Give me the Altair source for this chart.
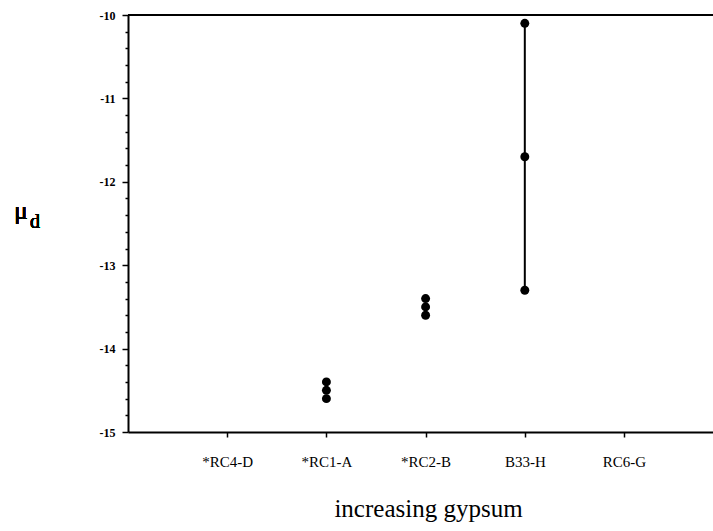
import altair as alt
import pandas as pd

# ---- data ----
categories = ["*RC4-D", "*RC1-A", "*RC2-B", "B33-H", "RC6-G"]
sample_site = ["*RC1-A", "*RC1-A", "*RC1-A",
               "*RC2-B", "*RC2-B", "*RC2-B",
               "B33-H", "B33-H", "B33-H"]
mu_d = [-14.4, -14.5, -14.6,
        -13.4, -13.5, -13.6,
        -10.1, -11.7, -13.3]
y_all_ticks = [round(-15 + 0.2 * i, 1) for i in range(26)]

pos = [categories.index(s) + 1 for s in sample_site]
df = pd.DataFrame({"pos": pos, "mu": mu_d, "site": sample_site})

W, H = 585, 417
FONT = "Liberation Serif"

xscale = alt.Scale(domain=[0, 5.897], nice=False, zero=False)
yscale = alt.Scale(domain=[-15, -10], nice=False, zero=False)

x_label_expr = "[" + ",".join(f"'{c}'" for c in categories) + "][datum.value - 1]"
is_major = "abs(datum.value - round(datum.value)) < 0.001"

x_enc = alt.X(
    "pos:Q", scale=xscale,
    axis=alt.Axis(
        values=[1, 2, 3, 4, 5], labelExpr=x_label_expr, tickCount=10,
        title="increasing gypsum", grid=False,
        domainColor="black", domainWidth=2,
        tickColor="black", tickSize=5, tickWidth=1.5,
        labelFont=FONT, labelFontSize=15, labelColor="black", labelPadding=17,
        titleFont=FONT, titleFontSize=25, titleFontWeight="normal",
        titleColor="black", titlePadding=27, titleX=300,
    ),
)
y_enc = alt.Y(
    "mu:Q", scale=yscale,
    axis=alt.Axis(
        values=y_all_ticks, tickCount=40,
        labelExpr=f"{is_major} ? '' + round(datum.value) : ''",
        title=None, grid=False, labelOverlap=False,
        domainColor="black", domainWidth=2,
        tickColor="black", tickWidth=1.5,
        tickSize={"condition": {"test": is_major, "value": 6}, "value": 3},
        labelFont=FONT, labelFontSize=12, labelFontWeight="bold",
        labelColor="black", labelPadding=7,
    ),
)

points = alt.Chart(df).mark_circle(size=80, color="black", opacity=1).encode(x=x_enc, y=y_enc)
line = (
    alt.Chart(df)
    .transform_filter("datum.site == 'B33-H'")
    .mark_line(color="black", strokeWidth=2)
    .encode(x="pos:Q", y="mu:Q")
)
top = alt.Chart(df).mark_rule(color="black", strokeWidth=2).encode(
    y=alt.datum(-10), x=alt.value(0), x2=alt.value(W)
)
mu_txt = alt.Chart(df).mark_text(
    text="μ", font=FONT, fontSize=25, color="black", align="center", baseline="alphabetic"
).encode(x=alt.value(-107), y=alt.value(204))
d_txt = alt.Chart(df).mark_text(
    text="d", font=FONT, fontSize=20, color="black", align="center", baseline="alphabetic"
).encode(x=alt.value(-93), y=alt.value(213))

chart = (
    alt.layer(top, line, points, mu_txt, d_txt)
    .properties(
        width=W, height=H,
        autosize=alt.AutoSizeParams(type="none"),
        padding={"left": 128, "top": 15, "right": 0, "bottom": 99},
        background="white",
    )
    .configure_view(stroke=None)
)

chart.save("out.html", embed_options={"renderer": "svg", "actions": False})
